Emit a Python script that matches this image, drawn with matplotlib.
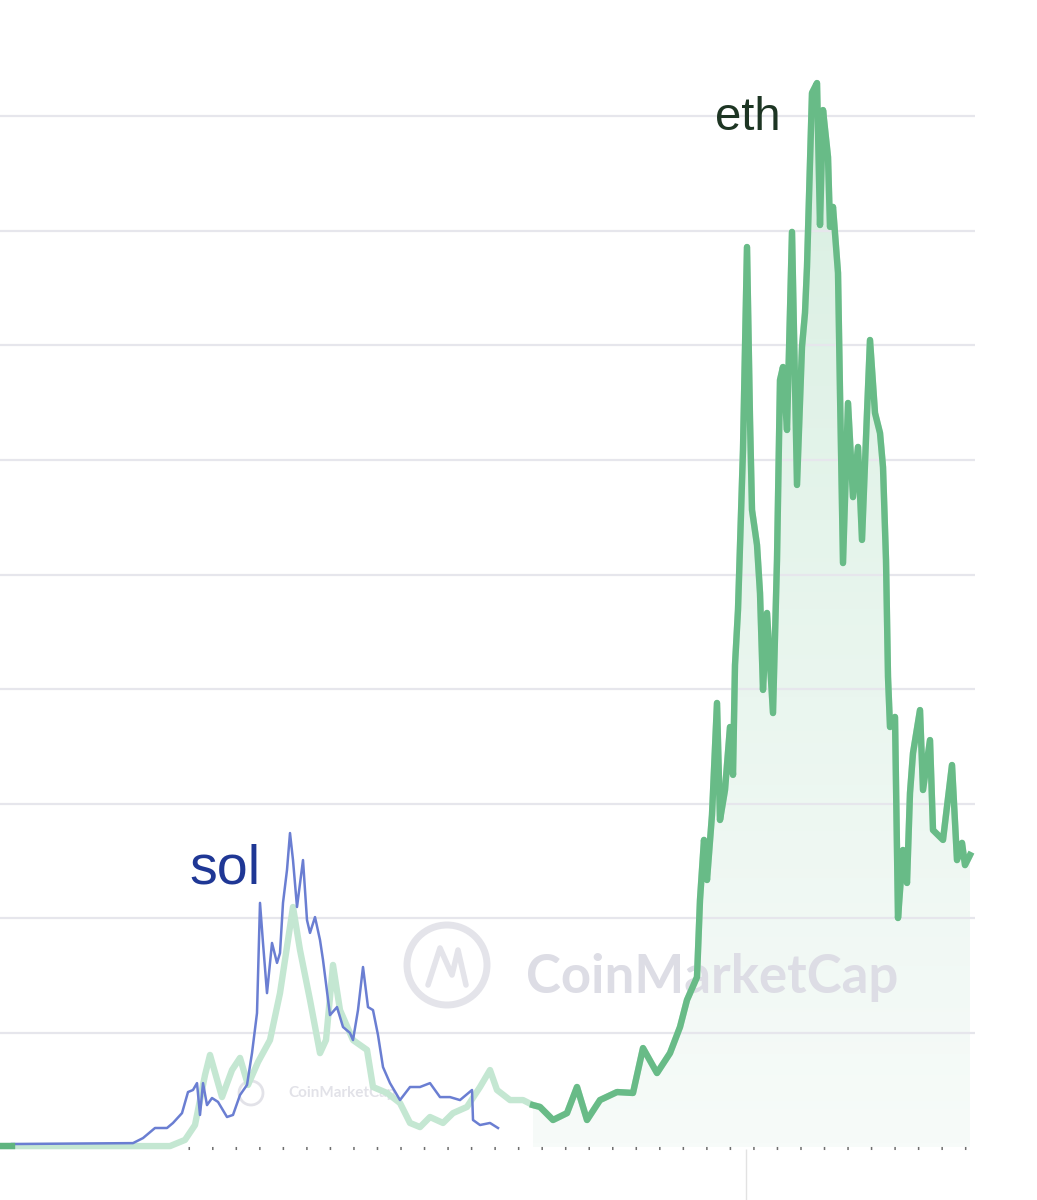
import numpy as np
import matplotlib.pyplot as plt
from matplotlib.colors import LinearSegmentedColormap
from matplotlib.patches import Circle
from matplotlib.transforms import Affine2D

# dias (eixo do tempo) e precos
eth_dias = [0, 12, 170, 185, 195, 205, 210, 222, 232, 240, 248, 258, 270, 280, 288, 293,
            300, 310, 320, 326, 333, 340, 353, 367, 373, 387, 400, 410, 420, 430, 443,
            453, 467, 480, 490, 497, 510, 523, 533, 540, 553, 567, 577, 587, 600, 617,
            633, 643, 657, 670, 680, 687, 697, 700, 704, 707, 712, 717, 720, 725, 730,
            733, 735, 738, 743, 747, 750, 752, 757, 760, 763, 767, 773, 777, 780, 783,
            787, 792, 797, 802, 805, 807, 812, 817, 820, 823, 828, 830, 833, 838, 840,
            843, 848, 853, 858, 862, 867, 870, 875, 880, 883, 886, 888, 890, 895, 898,
            903, 907, 910, 913, 920, 923, 930, 933, 943, 952, 957, 962, 965, 970]
eth_preco = [4, 4, 4, 31, 96, 314, 402, 218, 336, 389, 271, 371, 467, 672, 904, 1048,
             860, 642, 410, 467, 795, 598, 467, 424, 262, 236, 192, 105, 87, 131, 105,
             148, 175, 262, 336, 249, 205, 205, 183, 175, 118, 148, 262, 118, 205, 240,
             236, 432, 323, 410, 524, 642, 742, 1079, 1341, 1166, 1450, 1939, 1428, 1559, 1834,
             1625, 2105, 2345, 3044, 3930, 3175, 2782, 2629, 2419, 1996, 2332, 1895, 2563, 3349, 3406,
             3131, 3996, 2891, 3494, 3642, 3843, 4603, 4646, 4026, 4528, 4323, 4018, 4105, 3817, 3292,
             2550, 3249, 2838, 3057, 2651, 3205, 3524, 3205, 3118, 2969, 2563, 2052, 1834, 1878, 1000,
             1297, 1153, 1546, 1720, 1908, 1559, 1777, 1384, 1341, 1668, 1253, 1328, 1231, 1275]

sol_dias = [12, 133, 143, 155, 167, 173, 182, 188, 193, 197, 200, 203, 207, 212, 218, 227,
            233, 240, 247, 252, 257, 260, 263, 267, 272, 277, 280, 283, 287, 290, 293, 297,
            303, 307, 310, 315, 320, 323, 330, 337, 343, 350, 353, 358, 363, 368, 373, 378,
            383, 390, 400, 410, 420, 430, 440, 450, 460, 472, 473, 480, 490, 498]
sol_preco = [13, 17, 39, 83, 83, 105, 148, 240, 249, 279, 140, 279, 183, 214, 197, 131,
             140, 227, 271, 410, 585, 1066, 891, 672, 891, 804, 847, 1066, 1210, 1371, 1253, 1048,
             1253, 991, 935, 1004, 904, 817, 576, 611, 524, 498, 467, 598, 786, 611, 598, 489,
             349, 279, 205, 262, 262, 279, 218, 218, 205, 249, 118, 96, 105, 83]

grade = [500, 1000, 1500, 2000, 2500, 3000, 3500, 4000, 4500]

t = np.array(eth_dias, dtype=float)
v = np.array(eth_preco, dtype=float)

fig = plt.figure(figsize=(10.37, 12), dpi=100)
ax = fig.add_axes([0, 0, 1, 1])
ax.set_axis_off()

# pixel -> eixo (para marca d'agua)
px = Affine2D().scale(1 / 1037, -1 / 1200).translate(0, 1) + ax.transAxes

# preenchimento em degrade sob a parte forte do eth
m = t >= 533
area = ax.fill_between(t[m], v[m], 0, color='none', lw=0)
cmap = LinearSegmentedColormap.from_list('fundo', ['#f7fbf9', '#d8efe1'])
grad = np.linspace(0, 1, 256).reshape(-1, 1)
img = ax.imshow(grad, extent=[t[m][0], t[m][-1], 0, 4700], origin='lower',
                aspect='auto', cmap=cmap, zorder=0.5)
img.set_clip_path(area.get_paths()[0], transform=ax.transData)

ax.hlines(grade, 0, 975, color='#e6e6ec', lw=1.6, zorder=1)
ax.hlines(-4, 188, 968, color='#6f6f6f', lw=2.2, linestyles=(0, (0.5, 7.2)), zorder=1)
ax.vlines(746, -240, -10, color='#e2e2e2', lw=1, zorder=1)

# marca d'agua CoinMarketCap
ax.add_patch(Circle((447, 965), 40, transform=px, fill=False, ec='#e4e4ea', lw=5, zorder=2))
ax.plot([428, 440, 452, 458, 466], [985, 948, 975, 950, 985], transform=px,
        color='#e4e4ea', lw=4, zorder=2, solid_capstyle='round')
ax.text(712, 977, 'CoinMarketCap', transform=px, ha='center', va='center',
        fontsize=38, fontweight='bold', family='Lato', color='#dddde5', zorder=2)
ax.add_patch(Circle((251, 1093), 12, transform=px, fill=False, ec='#e2e2e8', lw=2, zorder=2))
ax.text(342, 1093, 'CoinMarketCap', transform=px, ha='center', va='center',
        fontsize=11, fontweight='bold', family='Lato', color='#e2e2e8', zorder=2)

# eth esmaecido + sol + eth forte
ax.plot(t, v, color='#c4e7d2', lw=4.6, zorder=3, solid_joinstyle='round')
ax.plot(sol_dias, sol_preco, color='#6a7ed2', lw=1.8, zorder=4)
ax.plot(t, np.where(t <= 12, v, np.nan), color='#5fb47f', lw=4.6, zorder=5)
ax.plot(t[m], v[m], color='#68bb87', lw=4.6, zorder=5, solid_joinstyle='round')

ax.text(748, 4495, 'eth', fontsize=34, family='Liberation Sans', color='#1d3523',
        ha='center', va='center', zorder=6)
ax.text(225, 1210, 'sol', fontsize=40, family='Liberation Sans', color='#1f3795',
        ha='center', va='center', zorder=6)

ax.set_xlim(0, 1037)
ax.set_ylim(-231.4, 5008.7)

plt.savefig('out.png', dpi=100)
